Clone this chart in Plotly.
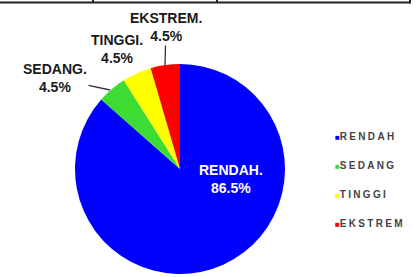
import plotly.graph_objects as go

W, H = 416, 277

# ---- data ----
categories = ["RENDAH", "SEDANG", "TINGGI", "EKSTREM"]
values = [86.5, 4.5, 4.5, 4.5]
colors = ["#0000ff", "#3cdc32", "#ffff00", "#ff0000"]

def px(x):
    return x / W

def py(y):
    return 1 - y / H

fig = go.Figure()
fig.add_trace(go.Pie(
    labels=categories,
    values=values,
    sort=False,
    direction="clockwise",
    rotation=0,
    marker=dict(colors=colors, line=dict(width=0)),
    textinfo="none",
    hoverinfo="skip",
    showlegend=False,
    domain=dict(x=[px(180 - 105), px(180 + 105)], y=[py(169 + 105), py(169 - 105)]),
))

def lbl(i):
    return f"{categories[i]}.<br>{values[i]}%"

lab_font = dict(family="Liberation Sans, Arial, sans-serif", size=14, color="#1a1a1a")
ann = []
# inside label for the big slice
ann.append(dict(x=px(231), y=py(179), xref="paper", yref="paper", text="<b>" + lbl(0) + "</b>",
                showarrow=False, font=dict(family="Liberation Sans, Arial, sans-serif", size=14, color="white"),
                xanchor="center", yanchor="middle"))
# SEDANG with leader
ann.append(dict(x=px(110), y=py(90), xref="paper", yref="paper", text="<b>" + lbl(1) + "</b>",
                showarrow=True, arrowhead=0, arrowwidth=1.3, arrowcolor="#333",
                ax=55 - 110, ay=78 - 90, font=lab_font))
# TINGGI no leader
ann.append(dict(x=px(117), y=py(49), xref="paper", yref="paper", text="<b>" + lbl(2) + "</b>",
                showarrow=False, font=lab_font, xanchor="center", yanchor="middle"))
# EKSTREM with leader
ann.append(dict(x=px(165), y=py(65), xref="paper", yref="paper", text="<b>" + lbl(3) + "</b>",
                showarrow=True, arrowhead=0, arrowwidth=1.3, arrowcolor="#333",
                ax=1, ay=27 - 65, font=lab_font))

# manual legend
leg_y = [137, 165, 194, 223]
for i, c in enumerate(categories):
    ann.append(dict(x=px(333), y=py(leg_y[i]), xref="paper", yref="paper",
                    text=(f"<span style='color:{colors[i]};font-size:8px'>■</span>"
                          f"<span style='letter-spacing:2.3px'><b>{c}</b></span>"),
                    showarrow=False, xanchor="left", yanchor="middle",
                    font=dict(family="Liberation Sans, Arial, sans-serif", size=10, color="#444")))

border = dict(color="#222", width=2)
shapes = [
    dict(type="line", xref="paper", yref="paper", x0=0, x1=px(410), y0=py(2.5), y1=py(2.5), line=border),
    dict(type="line", xref="paper", yref="paper", x0=px(93), x1=px(93), y0=py(0), y1=py(2.5), line=border),
    dict(type="line", xref="paper", yref="paper", x0=px(217), x1=px(217), y0=py(0), y1=py(2.5), line=border),
    dict(type="line", xref="paper", yref="paper", x0=px(410), x1=px(410), y0=py(0), y1=py(3.5), line=border),
]

fig.update_layout(
    width=W, height=H,
    margin=dict(l=0, r=0, t=0, b=0),
    paper_bgcolor="white", plot_bgcolor="white",
    annotations=ann, shapes=shapes,
)

fig.write_html("out.html", config={"displayModeBar": False},
               post_script="document.body.style.margin='0';")
